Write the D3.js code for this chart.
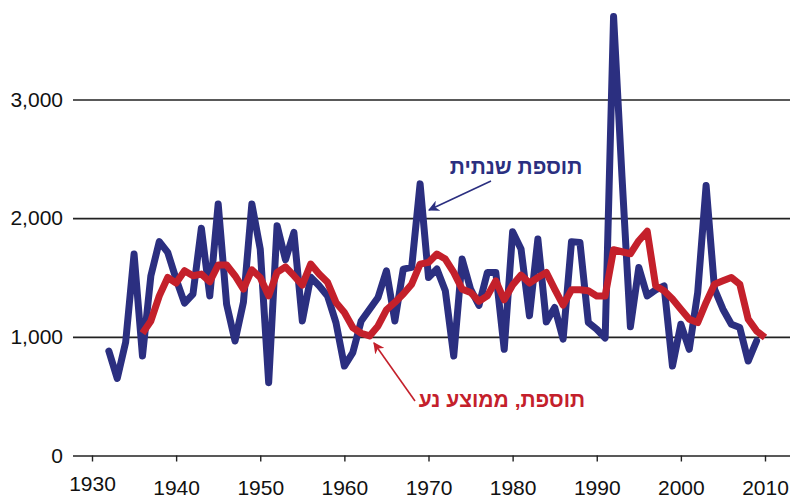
<html>
<head>
<meta charset="utf-8">
<script src="https://d3js.org/d3.v7.min.js"></script>
<style>
  body { margin: 0; background: #fff; }
  text { font-family: "Liberation Sans", Arial, sans-serif; }
</style>
</head>
<body>
<svg id="chart" width="792" height="501"></svg>
<script>
// annual addition, 1932..2009
const annualStart = 1932;
const annualValues = [880, 650, 954, 1698, 839, 1515, 1802, 1712, 1486, 1284,
  1360, 1915, 1345, 2120, 1275, 965, 1292, 2120, 1740, 614,
  1937, 1650, 1880, 1134, 1503, 1430, 1345, 1120, 754, 867,
  1134, 1233, 1332, 1557, 1134, 1571, 1585, 2289, 1500, 1571,
  1388, 839, 1655, 1402, 1265, 1543, 1543, 895, 1886, 1740,
  1177, 1824, 1126, 1247, 980, 1802, 1796, 1120, 1064, 990,
  3700, 2350, 1085, 1585, 1345, 1396, 1430, 754, 1106, 895,
  1374, 2275, 1402, 1233, 1106, 1078, 796, 965];

// moving average, 1936..2010
const avgStart = 1936;
const avgValues = [1030, 1134, 1345, 1500, 1453, 1557, 1515, 1529, 1464, 1605,
  1605, 1515, 1402, 1565, 1500, 1345, 1543, 1590, 1515, 1436,
  1613, 1529, 1459, 1290, 1205, 1078, 1030, 1008, 1092, 1227,
  1290, 1360, 1444, 1613, 1627, 1698, 1655, 1543, 1402, 1374,
  1300, 1345, 1472, 1312, 1436, 1520, 1453, 1500, 1543, 1402,
  1267, 1396, 1396, 1388, 1345, 1345, 1734, 1717, 1700, 1810,
  1890, 1430, 1388, 1318, 1233, 1149, 1120, 1290, 1444, 1472,
  1500, 1444, 1149, 1050, 994];

const xTicks = [1930, 1940, 1950, 1960, 1970, 1980, 1990, 2000, 2010];
const yTicks = [0, 1000, 2000, 3000];
const labelAnnual = "תוספת שנתית";
const labelAvg = "תוספת, ממוצע נע";

const annual = annualValues.map((v, i) => ({year: annualStart + i, value: v}));
const avg = avgValues.map((v, i) => ({year: avgStart + i, value: v}));

const svg = d3.select("svg#chart");
const blue = "#2b2f80";
const red = "#c4202b";

const x = d3.scaleLinear().domain([1930, 2010]).range([92, 765]);
const y = d3.scaleLinear().domain([0, 3000]).range([455.5, 99.5]);

// gridlines + y labels
const left = 73, right = 790;
const yAxis = svg.append("g")
  .attr("transform", `translate(${left},0)`)
  .call(d3.axisLeft(y).tickValues(yTicks).tickSize(-(right - left)).tickPadding(10).tickFormat(d3.format(",")));
yAxis.select(".domain").remove();
yAxis.selectAll(".tick line").attr("stroke", "#222").attr("stroke-width", 1.6);
yAxis.selectAll(".tick text").attr("font-size", 21).attr("fill", "#111")
  .attr("font-family", "'Liberation Sans', Arial, sans-serif");

// x axis
const xAxis = svg.append("g")
  .attr("transform", `translate(0,${y(0)})`)
  .call(d3.axisBottom(x).tickValues(xTicks).tickSize(6).tickPadding(21).tickFormat(d3.format("d")));
xAxis.select(".domain").remove();
xAxis.selectAll(".tick line").attr("stroke", "#222").attr("stroke-width", 1.4);
xAxis.selectAll(".tick text").attr("font-size", 21).attr("fill", "#111")
  .attr("font-family", "'Liberation Sans', Arial, sans-serif")
  .attr("dy", d => d === 1930 ? "0.42em" : "0.58em");

const line = d3.line().x(d => x(d.year)).y(d => y(d.value));

svg.append("path").datum(annual)
  .attr("d", line)
  .attr("fill", "none")
  .attr("stroke", blue)
  .attr("stroke-width", 7)
  .attr("stroke-linejoin", "round")
  .attr("stroke-linecap", "round");

svg.append("path").datum(avg)
  .attr("d", line)
  .attr("fill", "none")
  .attr("stroke", red)
  .attr("stroke-width", 7)
  .attr("stroke-linejoin", "round")
  .attr("stroke-linecap", "butt");

// arrows
const defs = svg.append("defs");
[["ahBlue", blue], ["ahRed", red]].forEach(([id, c]) => {
  defs.append("marker").attr("id", id)
    .attr("viewBox", "0 0 10 10").attr("refX", 9).attr("refY", 5)
    .attr("markerWidth", 7).attr("markerHeight", 7).attr("orient", "auto")
    .append("path").attr("d", "M0,0L10,5L0,10L3,5Z").attr("fill", c);
});

svg.append("line")
  .attr("x1", 491).attr("y1", 181).attr("x2", 429).attr("y2", 210)
  .attr("stroke", blue).attr("stroke-width", 1.6).attr("marker-end", "url(#ahBlue)");
svg.append("line")
  .attr("x1", 415).attr("y1", 401).attr("x2", 374).attr("y2", 343)
  .attr("stroke", red).attr("stroke-width", 1.6).attr("marker-end", "url(#ahRed)");

svg.append("text")
  .attr("x", 516).attr("y", 174)
  .attr("text-anchor", "middle")
  .attr("font-size", 21).attr("font-weight", "bold")
  .attr("fill", blue)
  .attr("direction", "rtl")
  .text(labelAnnual);

svg.append("text")
  .attr("x", 502).attr("y", 407)
  .attr("text-anchor", "middle")
  .attr("font-size", 21).attr("font-weight", "bold")
  .attr("fill", red)
  .attr("direction", "rtl")
  .text(labelAvg);
</script>
</body>
</html>
